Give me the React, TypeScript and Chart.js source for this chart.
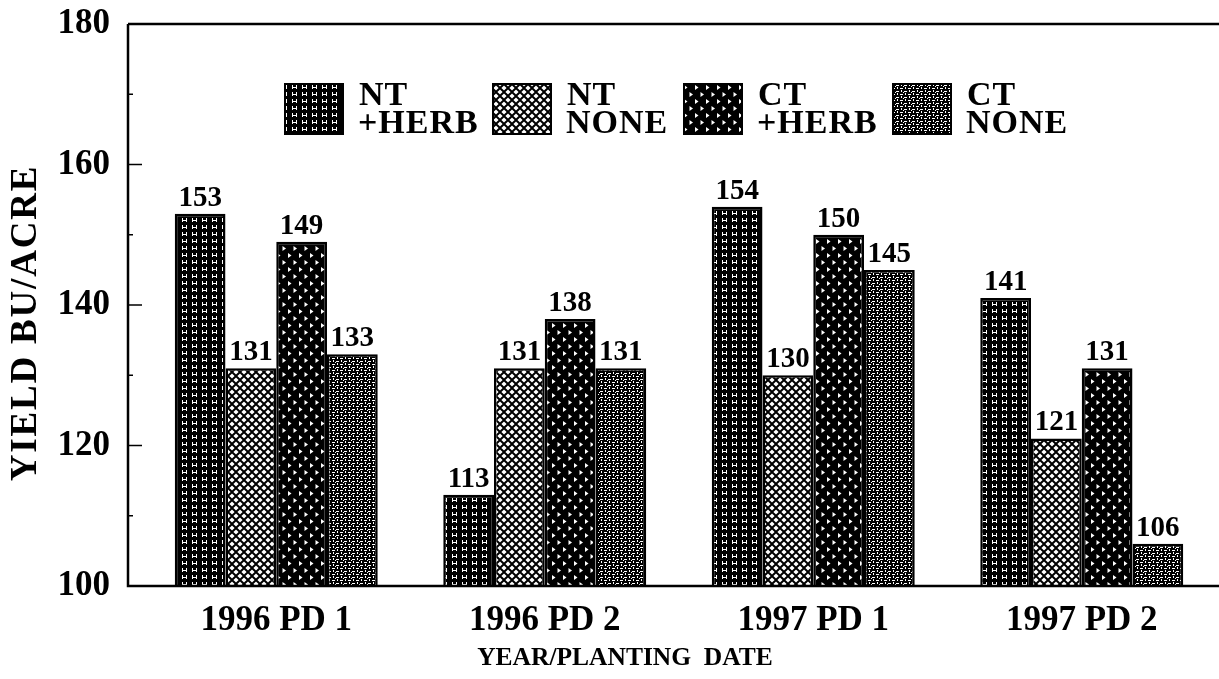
import React, { useEffect, useRef } from "react";
import { Chart, registerables } from "chart.js";

Chart.register(...registerables);

const categories = ["1996 PD 1", "1996 PD 2", "1997 PD 1", "1997 PD 2"];
const seriesNames = ["NT +HERB", "NT NONE", "CT +HERB", "CT NONE"];
const ntHerb = [153, 113, 154, 141];
const ntNone = [131, 131, 130, 121];
const ctHerb = [149, 138, 150, 131];
const ctNone = [133, 131, 145, 106];
const yTicks = [100, 120, 140, 160, 180];
const yMinorTicks = [110, 130, 150, 170];
const yTitle = "YIELD BU/ACRE";
const xTitle = "YEAR/PLANTING  DATE";

const FONT = "'Liberation Serif', 'Times New Roman', serif";

function makePattern(kind: number): CanvasPattern | string {
  const c = document.createElement("canvas");
  const ctx = c.getContext("2d");
  if (!ctx) return "#000";
  const w = kind === 0 ? 10 : kind === 1 ? 8 : kind === 2 ? 11 : 8;
  const h = kind === 0 ? 7 : kind === 1 ? 8 : kind === 2 ? 14 : 6;
  c.width = w;
  c.height = h;
  ctx.fillStyle = "#000";
  ctx.fillRect(0, 0, w, h);
  ctx.fillStyle = "#fff";
  if (kind === 0) {
    ctx.fillRect(2, 1, 1, 4);
    ctx.fillRect(6, 1, 1, 4);
    ctx.fillRect(3, 3, 3, 1);
  } else if (kind === 1) {
    const diamond = (cx: number, cy: number, r: number) => {
      ctx.beginPath();
      ctx.moveTo(cx, cy - r);
      ctx.lineTo(cx + r, cy);
      ctx.lineTo(cx, cy + r);
      ctx.lineTo(cx - r, cy);
      ctx.closePath();
      ctx.fill();
    };
    const r = 2.6;
    diamond(4, 4, r);
    diamond(0, 0, r);
    diamond(8, 0, r);
    diamond(0, 8, r);
    diamond(8, 8, r);
  } else if (kind === 2) {
    const tri = (x: number, y: number) => {
      ctx.beginPath();
      ctx.moveTo(x, y);
      ctx.lineTo(x + 3.5, y + 2.5);
      ctx.lineTo(x, y + 5);
      ctx.closePath();
      ctx.fill();
    };
    tri(2, 1);
    tri(7.5, 8);
  } else {
    ctx.fillRect(0, 1, 3, 1);
    ctx.fillRect(5, 0, 1, 2);
    ctx.fillRect(4, 4, 3, 1);
    ctx.fillRect(1, 3, 1, 2);
    ctx.fillRect(7, 2, 1, 1);
  }
  const p = ctx.createPattern(c, "repeat");
  return p || "#000";
}

export default function App() {
  const ref = useRef<HTMLCanvasElement | null>(null);

  useEffect(() => {
    document.body.style.margin = "0";
    const canvas = ref.current;
    if (!canvas) return;
    const patterns = [0, 1, 2, 3].map((k) => makePattern(k));
    const seriesValues = [ntHerb, ntNone, ctHerb, ctNone];
    const AXIS_INSET = 14; // y-axis line sits left of the first category slot

    const framePlugin = {
      id: "framePlugin",
      afterDatasetsDraw(chart: any) {
        const { ctx, chartArea } = chart;
        const y = chart.scales.y;
        const axisX = chartArea.left - AXIS_INSET;
        const rightX = chart.width;
        ctx.save();
        ctx.strokeStyle = "#000";
        ctx.lineWidth = 2.5;
        ctx.beginPath();
        ctx.moveTo(axisX, chartArea.top);
        ctx.lineTo(rightX, chartArea.top);
        ctx.moveTo(axisX, chartArea.top);
        ctx.lineTo(axisX, chartArea.bottom);
        ctx.lineTo(rightX, chartArea.bottom);
        ctx.stroke();
        ctx.lineWidth = 1.5;
        ctx.beginPath();
        yTicks.forEach((v) => {
          const py = y.getPixelForValue(v);
          ctx.moveTo(axisX, py);
          ctx.lineTo(axisX + 14, py);
        });
        yMinorTicks.forEach((v) => {
          const py = y.getPixelForValue(v);
          ctx.moveTo(axisX, py);
          ctx.lineTo(axisX + 5, py);
        });
        ctx.stroke();

        // value labels
        ctx.fillStyle = "#000";
        ctx.font = `bold 29px ${FONT}`;
        ctx.textAlign = "center";
        ctx.textBaseline = "alphabetic";
        chart.data.datasets.forEach((ds: any, di: number) => {
          const meta = chart.getDatasetMeta(di);
          meta.data.forEach((el: any, i: number) => {
            ctx.fillText(String(seriesValues[di][i]), el.x, el.y - 8);
          });
        });

        // legend
        const boxX = [285, 493, 684, 893];
        ctx.textAlign = "left";
        seriesNames.forEach((name, i) => {
          const bx = boxX[i];
          ctx.fillStyle = patterns[i] as any;
          ctx.fillRect(bx, 84, 58, 50);
          ctx.strokeStyle = "#000";
          ctx.lineWidth = 2;
          ctx.strokeRect(bx, 84, 58, 50);
          ctx.fillStyle = "#000";
          ctx.font = `bold 34px ${FONT}`;
          (ctx as any).letterSpacing = "1px";
          const parts = name.split(" ");
          ctx.fillText(parts[0], bx + 74, 105);
          ctx.fillText(parts[1], bx + 73, 133);
          (ctx as any).letterSpacing = "0px";
        });

        // axis titles
        ctx.font = `bold 25.5px ${FONT}`;
        ctx.textAlign = "center";
        ctx.fillText(xTitle, 625, 665);
        ctx.save();
        ctx.translate(36, 323);
        ctx.rotate(-Math.PI / 2);
        ctx.font = `bold 37px ${FONT}`;
        (ctx as any).letterSpacing = "1.8px";
        ctx.textAlign = "center";
        ctx.textBaseline = "alphabetic";
        ctx.fillText(yTitle, 0, 0);
        (ctx as any).letterSpacing = "0px";
        ctx.restore();
        ctx.restore();
      },
    };

    const chart = new Chart(canvas, {
      type: "bar",
      data: {
        labels: categories,
        datasets: seriesNames.map((name, di) => ({
          label: name,
          data: seriesValues[di],
          backgroundColor: patterns[di] as any,
          borderColor: "#000",
          borderWidth: 2.5,
          borderSkipped: false,
          categoryPercentage: 0.756,
          barPercentage: 1,
        })),
      },
      options: {
        animation: false,
        responsive: false,
        maintainAspectRatio: false,
        layout: { padding: { top: 24, right: 3, left: 0, bottom: 0 } },
        plugins: {
          legend: { display: false },
          tooltip: { enabled: false },
          title: { display: false },
        },
        scales: {
          x: {
            grid: { display: false, drawTicks: false },
            border: { display: false },
            afterFit: (scale: any) => {
              scale.height = 93;
              scale.paddingLeft = 0;
              scale.paddingRight = 0;
            },
            ticks: {
              autoSkip: false,
              maxRotation: 0,
              padding: 14,
              color: "#000",
              font: { family: FONT, size: 35, weight: "bold" },
            },
          },
          y: {
            min: 100,
            max: 180,
            grid: { display: false, drawTicks: false },
            border: { display: false },
            afterBuildTicks: (scale: any) => {
              scale.ticks = yTicks.map((v) => ({ value: v }));
            },
            afterFit: (scale: any) => {
              scale.width = 142;
              scale.paddingTop = 0;
              scale.paddingBottom = 0;
            },
            ticks: {
              padding: 32,
              color: "#000",
              font: { family: FONT, size: 35, weight: "bold" },
            },
          },
        },
      },
      plugins: [framePlugin],
    } as any);

    return () => chart.destroy();
  }, []);

  return (
    <div style={{ width: 1219, height: 679 }}>
      <canvas ref={ref} width={1219} height={679} style={{ display: "block" }} />
    </div>
  );
}
